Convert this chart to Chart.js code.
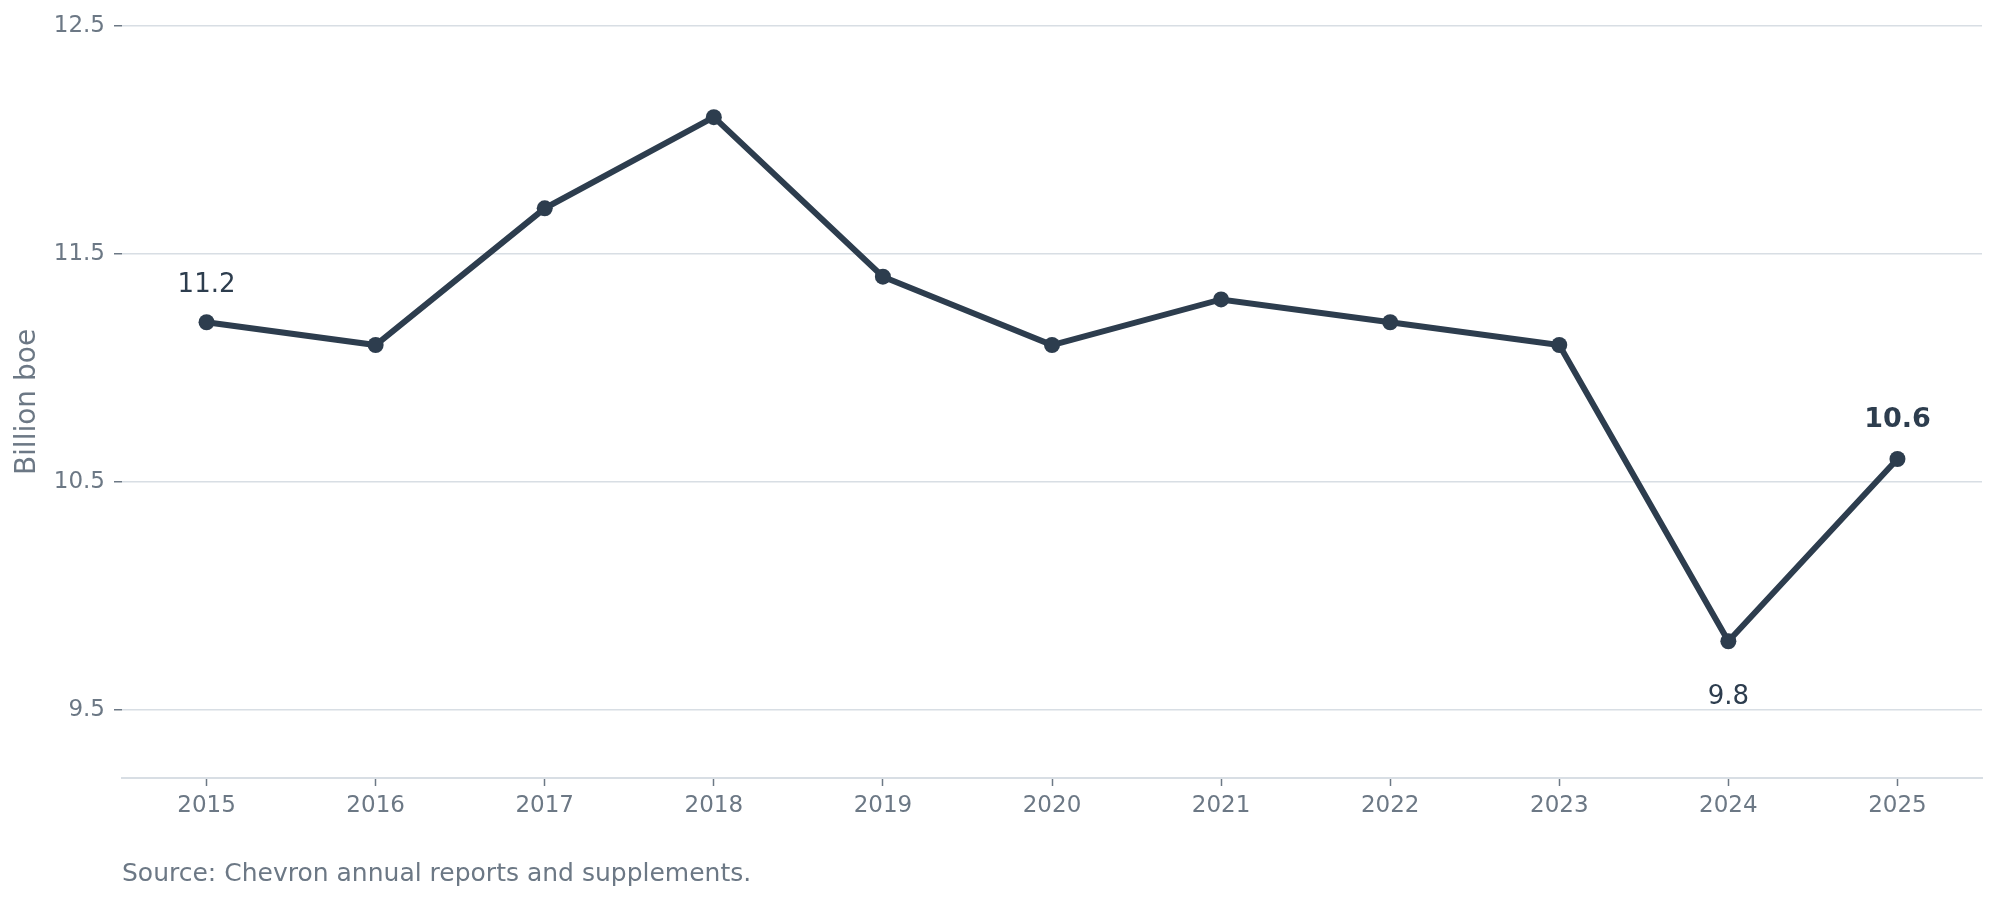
<!DOCTYPE html>
<html>
<head>
<meta charset="utf-8">
<script src="https://cdn.jsdelivr.net/npm/chart.js@4/dist/chart.umd.min.js"></script>
<style>
  html, body { margin: 0; padding: 0; background: #fff; }
  #wrap { width: 2000px; height: 906px; }
</style>
</head>
<body>
<div id="wrap"><canvas id="chart"></canvas></div>
<script>
const years = ['2015', '2016', '2017', '2018', '2019', '2020', '2021', '2022', '2023', '2024', '2025'];
const reserves = [11.2, 11.1, 11.7, 12.1, 11.4, 11.1, 11.3, 11.2, 11.1, 9.8, 10.6];
const yTicks = [9.5, 10.5, 11.5, 12.5];

const lineColor = '#2d3d4e';
const mutedText = '#6c7885';
const gridColor = '#d8dee4';

// value labels on the first, lowest and last points
const pointLabels = {
    id: 'pointLabels',
    afterDatasetsDraw(chart) {
        const ctx = chart.ctx;
        const meta = chart.getDatasetMeta(0);
        const marks = [
            { i: 0, dy: -37, bold: false },
            { i: 9, dy: 56, bold: false },
            { i: 10, dy: -39, bold: true }
        ];
        ctx.save();
        ctx.fillStyle = lineColor;
        ctx.textAlign = 'center';
        ctx.textBaseline = 'middle';
        marks.forEach(m => {
            const pt = meta.data[m.i];
            ctx.font = (m.bold ? 'bold 27px' : '26px') + ' "DejaVu Sans"';
            ctx.fillText(reserves[m.i].toFixed(1), pt.x, pt.y + m.dy);
        });
        ctx.restore();
    }
};

const ctx = document.getElementById('chart').getContext('2d');

new Chart(ctx, {
    type: 'line',
    data: {
        labels: years,
        datasets: [{
            data: reserves,
            borderColor: lineColor,
            backgroundColor: lineColor,
            borderWidth: 6,
            pointRadius: 8,
            pointBorderWidth: 0,
            pointHoverRadius: 8,
            tension: 0
        }]
    },
    options: {
        responsive: true,
        maintainAspectRatio: false,
        animation: false,
        layout: {
            padding: { top: 26, right: 18, left: 0, bottom: 0 }
        },
        plugins: {
            legend: { display: false },
            tooltip: { enabled: false },
            title: {
                display: true,
                text: 'Source: Chevron annual reports and supplements.',
                position: 'bottom',
                align: 'start',
                fullSize: false,
                color: mutedText,
                font: { family: 'DejaVu Sans', size: 25, weight: 'normal' },
                padding: { top: 33, bottom: 17 }
            }
        },
        scales: {
            x: {
                offset: true,
                grid: {
                    drawOnChartArea: false,
                    drawTicks: true,
                    tickLength: 8,
                    tickColor: mutedText,
                    tickWidth: 1.5
                },
                border: { display: true, color: gridColor, width: 2 },
                ticks: {
                    color: mutedText,
                    padding: 6,
                    font: { family: 'DejaVu Sans', size: 23 }
                },
                afterFit(scale) { scale.height = 48; }
            },
            y: {
                min: 9.2,
                max: 12.5,
                afterBuildTicks(scale) {
                    scale.ticks = yTicks.map(v => ({ value: v }));
                },
                afterFit(scale) { scale.width = 122; },
                grid: {
                    color: gridColor,
                    lineWidth: 1.5,
                    drawTicks: true,
                    tickLength: 8,
                    tickColor: mutedText,
                    tickWidth: 1.5
                },
                border: { display: false },
                ticks: {
                    color: mutedText,
                    padding: 9,
                    font: { family: 'DejaVu Sans', size: 23 },
                    callback: v => Number(v).toFixed(1)
                },
                title: {
                    display: true,
                    text: 'Billion boe',
                    color: mutedText,
                    font: { family: 'DejaVu Sans', size: 28 },
                    padding: { top: 11, bottom: 0 }
                }
            }
        }
    },
    plugins: [pointLabels]
});
</script>
</body>
</html>
